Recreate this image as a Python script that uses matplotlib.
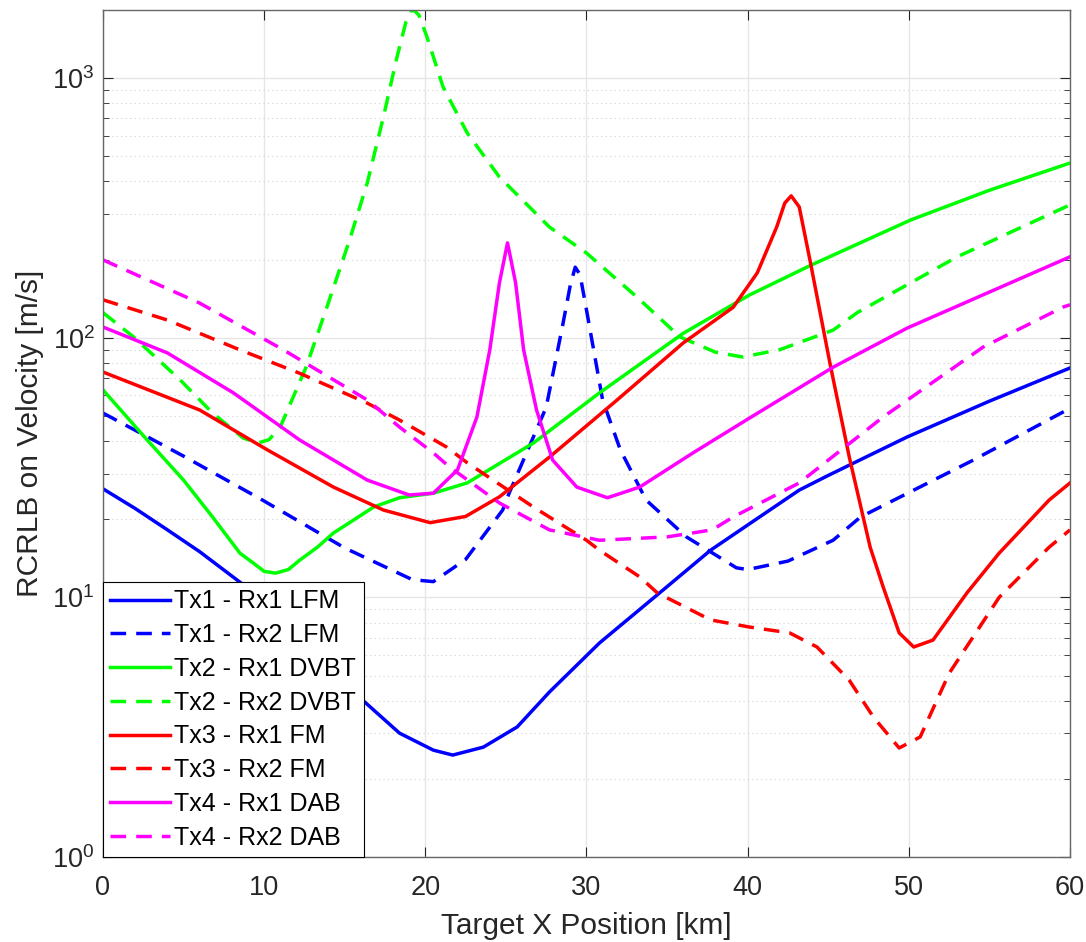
import numpy as np
import matplotlib
matplotlib.use("Agg")
import matplotlib.pyplot as plt
from matplotlib.ticker import LogLocator, NullFormatter, FixedLocator

plt.rcParams['font.family'] = ['Liberation Sans', 'DejaVu Sans']

# ---- data ----
x_t1r1 = [0, 2, 4, 6, 8.7, 12, 15.9, 18.4, 20.5, 21.7, 23.6, 25.7, 27.7, 30.8, 35, 37.7, 40, 43.2, 45, 49.9, 55, 60]
y_t1r1 = [26.2, 22, 18.2, 15, 11.2, 7.4, 4.13, 3.0, 2.58, 2.47, 2.65, 3.17, 4.32, 6.67, 11, 15.2, 19, 25.9, 29.5, 41.5, 57, 76.5]

x_t1r2 = [0, 5, 9.9, 15, 19.2, 20.5, 22.5, 24.8, 25.2, 27.5, 28.5, 29.0, 29.3, 29.6, 30.0, 31.0, 32.1, 33.7, 36.2, 39.3, 40, 42.5, 45.3, 47, 54, 60]
y_t1r2 = [51.3, 35, 23.7, 15.5, 11.7, 11.5, 14, 21.7, 25.2, 54, 110, 160, 187, 175, 128, 57.6, 37, 23.7, 17.1, 13, 12.8, 13.8, 16.6, 20.4, 33.8, 53.5]

x_t2r1 = [0, 2.5, 5, 6.8, 8.5, 9.3, 10.0, 10.7, 11.5, 12.2, 13.3, 14.3, 16.8, 18.4, 20.5, 22.6, 26.7, 30.8, 36, 40.1, 43.9, 50.1, 55, 60]
y_t2r1 = [63, 42, 28.3, 20.4, 14.8, 13.6, 12.6, 12.4, 12.8, 13.9, 15.6, 17.7, 22.3, 24.2, 25.2, 27.6, 39.3, 61.3, 104, 146, 190, 284, 370, 471]

x_t2r2 = [0, 1.9, 4.8, 6.8, 8.7, 9.6, 10.3, 11, 12.6, 13.9, 15.3, 16.4, 17.4, 18.2, 18.8, 19.2, 19.6, 20.1, 21.1, 22.6, 24.6, 27.7, 30, 33.1, 35.8, 38, 39.7, 42, 45.3, 46.8, 53, 60]
y_t2r2 = [125, 100.7, 68.7, 51.3, 41.1, 39.3, 40.5, 45.3, 77, 131.5, 238, 395, 708, 1175, 1650, 1848, 1750, 1443, 925, 615, 416, 267, 212, 144, 100.7, 88, 84.3, 90, 107, 125, 205, 325]

x_t3r1 = [0, 6, 10.2, 14.3, 17.4, 20.3, 22.5, 24.6, 27.7, 31.9, 36, 39.1, 40.6, 41.8, 42.3, 42.7, 43.2, 43.9, 45.1, 46.3, 47.6, 48.4, 49.4, 50.3, 51.5, 53.6, 55.6, 58.7, 60]
y_t3r1 = [73.8, 52.7, 37, 26.6, 21.7, 19.4, 20.5, 24.4, 34.7, 57.6, 95.5, 131, 178, 267, 330, 352, 319, 194, 80, 34.8, 15.6, 11, 7.3, 6.44, 6.85, 10.4, 14.8, 23.7, 27.6]

x_t3r2 = [0, 4, 8.5, 12.2, 16.4, 18.4, 21.3, 22.6, 26.7, 30, 30.8, 33.3, 34.4, 37.7, 40.1, 42.6, 44.3, 46.3, 47.8, 49.4, 50.7, 52.5, 55.6, 58.7, 60]
y_t3r2 = [140, 117, 89.8, 73, 56, 48.2, 38, 33, 22.3, 16.6, 15.2, 12, 10.4, 8.19, 7.69, 7.3, 6.44, 4.8, 3.46, 2.63, 2.9, 5.1, 10, 15.6, 18.2]

x_t4r1 = [0, 4, 8.1, 12.2, 16.4, 19, 20.5, 22, 23.2, 24, 24.6, 25.1, 25.6, 26.1, 26.9, 27.9, 29.4, 31.3, 33.3, 36.6, 40.1, 45.3, 49.9, 55, 60]
y_t4r1 = [110, 87.4, 61.3, 40.4, 28.3, 24.8, 25.2, 31, 49.5, 89.8, 163, 232, 163, 89.8, 52.7, 33.8, 26.6, 24.2, 26.6, 36, 49, 77, 109, 150, 205]

x_t4r2 = [0, 6, 11.2, 16.4, 18.4, 20.5, 21.5, 24.6, 27.7, 30.8, 35, 37.8, 39.1, 43.2, 48.4, 54.6, 59.6, 60]
y_t4r2 = [199.5, 136, 89.8, 57.6, 45.3, 36, 31.8, 23.1, 18.2, 16.6, 17.1, 18.2, 20.4, 27.6, 49.5, 92, 131.5, 134]

labels = ["Tx1 - Rx1 LFM", "Tx1 - Rx2 LFM", "Tx2 - Rx1 DVBT", "Tx2 - Rx2 DVBT",
          "Tx3 - Rx1 FM", "Tx3 - Rx2 FM", "Tx4 - Rx1 DAB", "Tx4 - Rx2 DAB"]
xticks = [0, 10, 20, 30, 40, 50, 60]

series = [(x_t1r1, y_t1r1), (x_t1r2, y_t1r2), (x_t2r1, y_t2r1), (x_t2r2, y_t2r2),
          (x_t3r1, y_t3r1), (x_t3r2, y_t3r2), (x_t4r1, y_t4r1), (x_t4r2, y_t4r2)]
colors = [(0, 0, 1), (0, 0, 1), (0, 1, 0), (0, 1, 0), (1, 0, 0), (1, 0, 0), (1, 0, 1), (1, 0, 1)]

fig = plt.figure(figsize=(10.86, 9.42), dpi=100)
ax = fig.add_axes([0.0948, 0.0902, 0.8905, 0.8992])

for i, ((xs, ys), c, lab) in enumerate(zip(series, colors, labels)):
    if i % 2 == 0:
        ax.plot(xs, ys, color=c, lw=2.5, label=lab, solid_joinstyle='round')
    else:
        ax.plot(xs, ys, color=c, lw=2.5, label=lab, dashes=(4.5, 2.9),
                dash_capstyle='butt', dash_joinstyle='round')

ax.set_yscale('log')
ax.set_xlim(0, 60)
ax.set_ylim(1, 1830)
ax.xaxis.set_major_locator(FixedLocator(xticks))
ax.yaxis.set_major_locator(LogLocator(base=10, numticks=10))
ax.yaxis.set_minor_locator(LogLocator(base=10, subs=np.arange(2, 10), numticks=10))
ax.yaxis.set_minor_formatter(NullFormatter())

ax.grid(True, which='major', axis='both', color=(0.9, 0.9, 0.9), lw=1.0, ls='-')
ax.grid(True, which='minor', axis='y', color=(0.82, 0.82, 0.82), lw=0.8, ls=(0, (1, 3)))
ax.set_axisbelow(True)

for sp in ax.spines.values():
    sp.set_color((0.4, 0.4, 0.4))
    sp.set_linewidth(1.0)
ax.tick_params(which='both', direction='in', top=True, right=True, colors=(0.15, 0.15, 0.15),
               labelsize=19.5)
ax.tick_params(which='major', length=7)
ax.tick_params(axis='x', which='major', pad=13)
ax.tick_params(axis='y', which='major', pad=6)
ax.tick_params(which='minor', length=4)

ax.set_xlabel("Target X Position [km]", fontsize=21.5, color=(0.15, 0.15, 0.15), labelpad=8)
ax.set_ylabel("RCRLB on Velocity [m/s]", fontsize=21.5, color=(0.15, 0.15, 0.15), labelpad=6)

leg = ax.legend(loc='lower left', fontsize=18, frameon=True, fancybox=False,
                edgecolor='black', framealpha=1.0, borderaxespad=0.0,
                handlelength=2.4, handletextpad=0.15, labelspacing=0.39, borderpad=0.3)
leg.get_frame().set_linewidth(0.8)

fig.savefig("out.png", dpi=100)
